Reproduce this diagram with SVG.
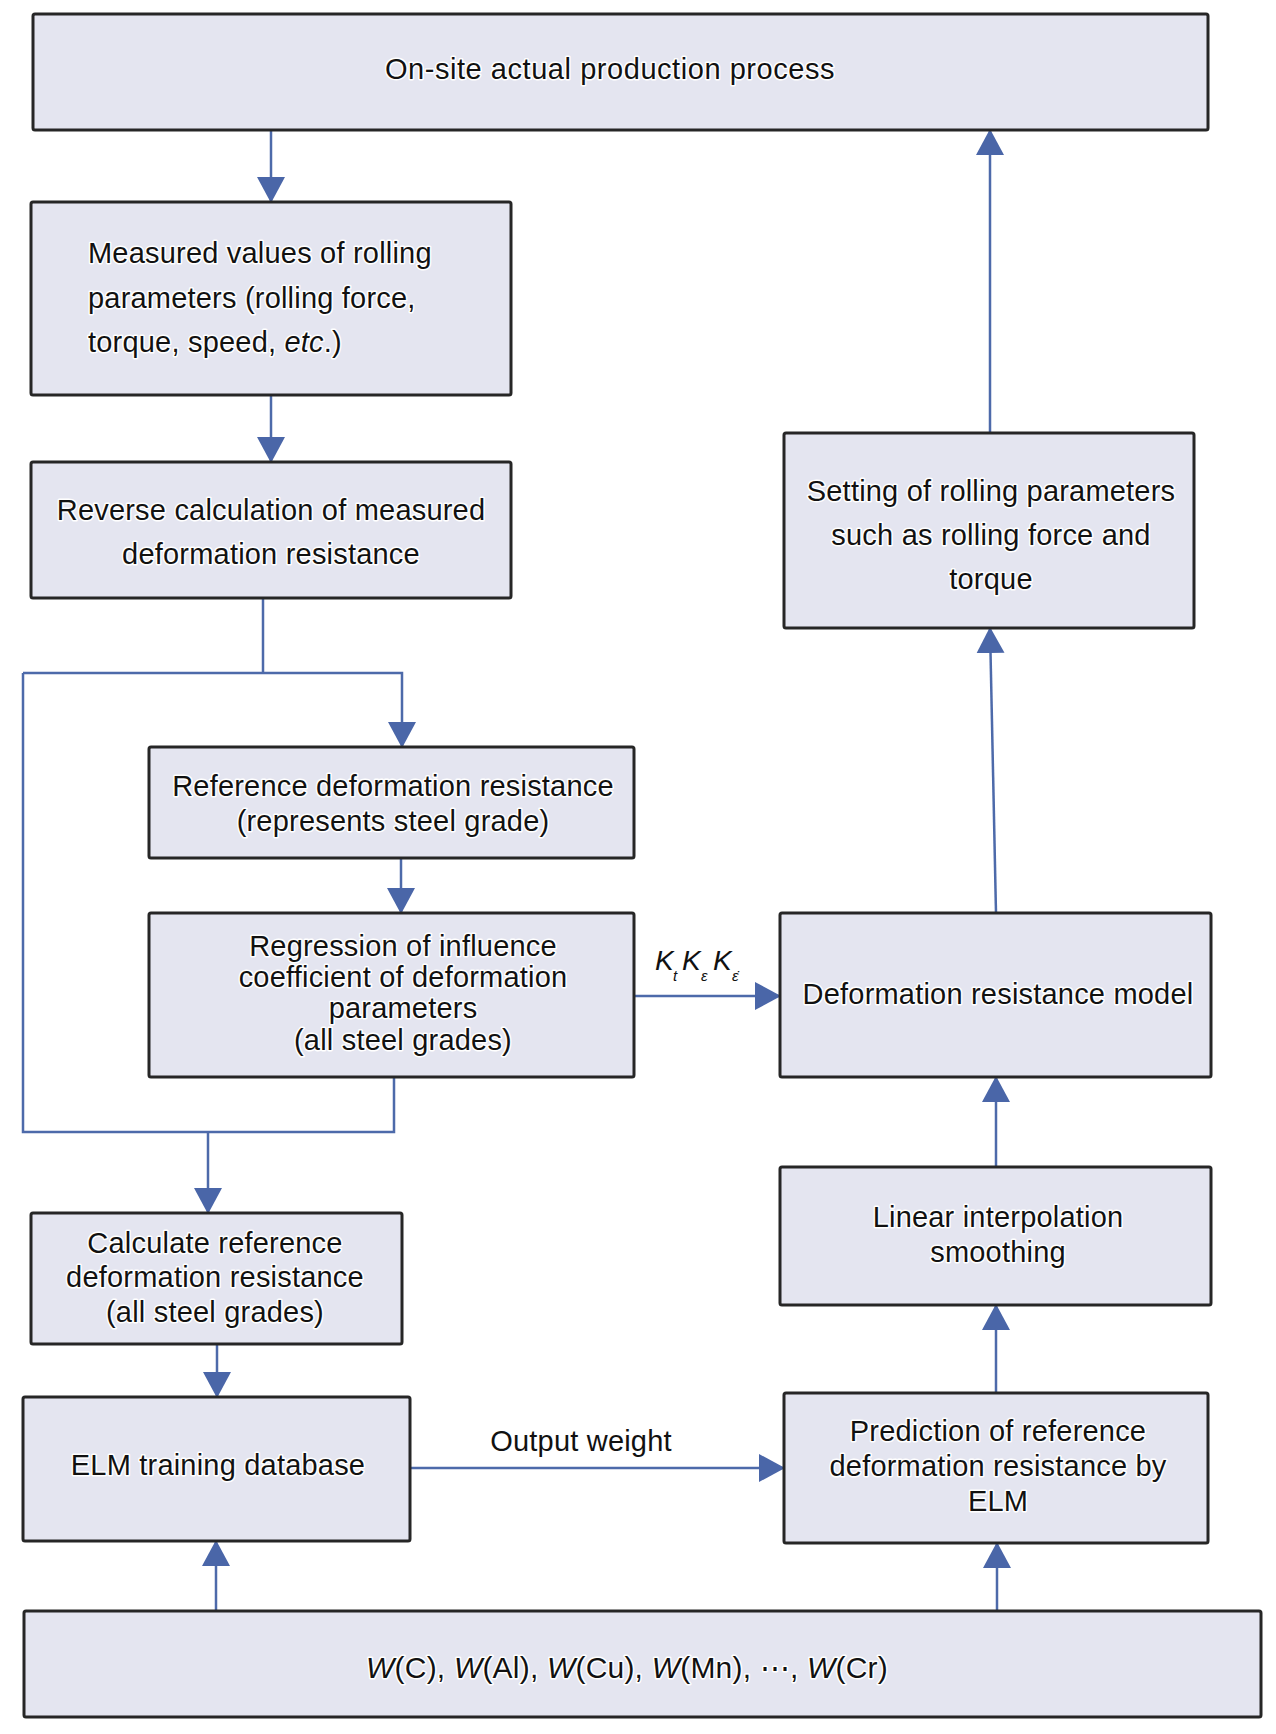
<svg xmlns="http://www.w3.org/2000/svg" width="1276" height="1734" viewBox="0 0 1276 1734">
<defs>
<marker id="ah" viewBox="0 0 26 28" refX="25" refY="14" markerWidth="26" markerHeight="28" markerUnits="userSpaceOnUse" orient="auto"><path d="M0,0 L26,14 L0,28 z" fill="#4a66a8"/></marker>
</defs>
<style>
.box{fill:#e4e5f0;stroke:#262626;stroke-width:3}
.t{font-family:"Liberation Sans",Arial,sans-serif;font-size:29px;letter-spacing:0.2px;fill:#111;stroke:#fff;stroke-width:3;paint-order:stroke;stroke-linejoin:round;text-anchor:middle}
.l{text-anchor:start}
.c{fill:none;stroke:#4d6aaa;stroke-width:2.5}
.a{marker-end:url(#ah)}
.i{font-style:italic}
</style>
<rect width="1276" height="1734" fill="#fff"/>
<g id="connectors">
<path class="c a" d="M271,130 V202"/>
<path class="c a" d="M271,395 V462"/>
<path class="c" d="M263,598 V673"/>
<path class="c a" d="M23,673 H402 V747"/>
<path class="c a" d="M401,858 V913"/>
<path class="c" d="M23,673 V1132 H394 V1077"/>
<path class="c a" d="M208,1132 V1213"/>
<path class="c a" d="M634,996 H780"/>
<path class="c a" d="M217,1344 V1397"/>
<path class="c a" d="M410,1468 H784"/>
<path class="c a" d="M216,1611 V1541"/>
<path class="c a" d="M997,1611 V1543"/>
<path class="c a" d="M996,1393 V1305"/>
<path class="c a" d="M996,1167 V1077"/>
<path class="c a" d="M996,913 L990,628"/>
<path class="c a" d="M990,433 V130"/>
<text class="t i" x="655" y="970" style="text-anchor:start;font-size:28px">K</text>
<text class="t i" x="673" y="981" style="text-anchor:start;font-size:15px">t</text>
<text class="t i" x="682" y="970" style="text-anchor:start;font-size:28px">K</text>
<text class="t i" x="701" y="981" style="text-anchor:start;font-size:15px">ε</text>
<text class="t i" x="713" y="970" style="text-anchor:start;font-size:28px">K</text>
<text class="t i" x="732" y="981" style="text-anchor:start;font-size:15px">ε̇</text>
<text class="t" x="581" y="1451">Output weight</text>
</g>
<g id="n1"><rect class="box" x="33" y="14" width="1175" height="116" rx="2"/><text class="t" x="610" y="79" style="letter-spacing:0.55px">On-site actual production process</text></g>
<g id="n2"><rect class="box" x="31" y="202" width="480" height="193" rx="2"/>
<text class="t l" x="88" y="263">Measured values of rolling</text>
<text class="t l" x="88" y="307.5">parameters (rolling force,</text>
<text class="t l" x="88" y="352">torque, speed, <tspan class="i">etc</tspan>.)</text></g>
<g id="n3"><rect class="box" x="31" y="462" width="480" height="136" rx="2"/>
<text class="t" x="271" y="520">Reverse calculation of measured</text>
<text class="t" x="271" y="564">deformation resistance</text></g>
<g id="n4"><rect class="box" x="149" y="747" width="485" height="111" rx="2"/>
<text class="t" x="393" y="796">Reference deformation resistance</text>
<text class="t" x="393" y="831">(represents steel grade)</text></g>
<g id="n5"><rect class="box" x="149" y="913" width="485" height="164" rx="2"/>
<text class="t" x="403" y="956">Regression of influence</text>
<text class="t" x="403" y="987">coefficient of deformation</text>
<text class="t" x="403" y="1018">parameters</text>
<text class="t" x="403" y="1050">(all steel grades)</text></g>
<g id="n6"><rect class="box" x="780" y="913" width="431" height="164" rx="2"/>
<text class="t" x="998" y="1004">Deformation resistance model</text></g>
<g id="n7"><rect class="box" x="31" y="1213" width="371" height="131" rx="2"/>
<text class="t" x="215" y="1253">Calculate reference</text>
<text class="t" x="215" y="1287">deformation resistance</text>
<text class="t" x="215" y="1322">(all steel grades)</text></g>
<g id="n8"><rect class="box" x="23" y="1397" width="387" height="144" rx="2"/>
<text class="t" x="218" y="1475">ELM training database</text></g>
<g id="n9"><rect class="box" x="784" y="1393" width="424" height="150" rx="2"/>
<text class="t" x="998" y="1441">Prediction of reference</text>
<text class="t" x="998" y="1476">deformation resistance by</text>
<text class="t" x="998" y="1511">ELM</text></g>
<g id="n10"><rect class="box" x="24" y="1611" width="1237" height="106" rx="2"/>
<text class="t" x="627" y="1678" style="font-size:30px"><tspan class="i">W</tspan>(C), <tspan class="i">W</tspan>(Al), <tspan class="i">W</tspan>(Cu), <tspan class="i">W</tspan>(Mn), ⋯, <tspan class="i">W</tspan>(Cr)</text></g>
<g id="n11"><rect class="box" x="784" y="433" width="410" height="195" rx="2"/>
<text class="t" x="991" y="501">Setting of rolling parameters</text>
<text class="t" x="991" y="545">such as rolling force and</text>
<text class="t" x="991" y="589">torque</text></g>
<g id="n12"><rect class="box" x="780" y="1167" width="431" height="138" rx="2"/>
<text class="t" x="998" y="1227">Linear interpolation</text>
<text class="t" x="998" y="1262">smoothing</text></g>
</svg>
